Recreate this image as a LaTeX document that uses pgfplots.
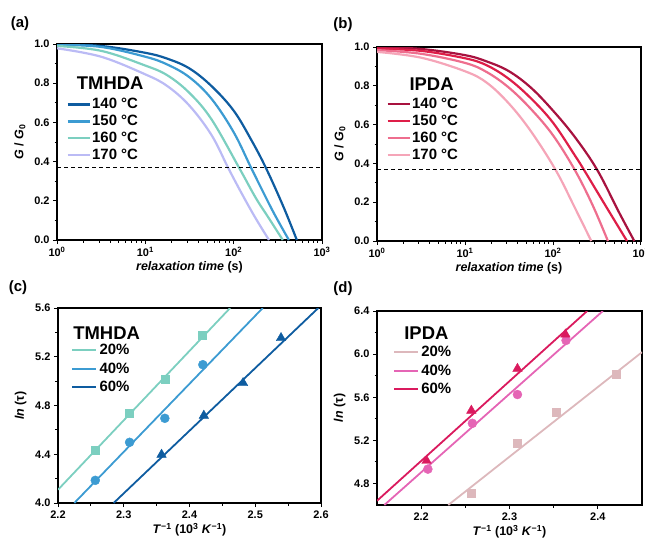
\documentclass[border=0pt]{standalone}
\usepackage{pgfplots}
\pgfplotsset{compat=1.18}
\usepackage{fontspec}
\setmainfont{Liberation Sans}

\definecolor{bA}{HTML}{0E5CA0}
\definecolor{bB}{HTML}{3C9BD2}
\definecolor{bC}{HTML}{7CCFC0}
\definecolor{bD}{HTML}{BBBBF5}
\definecolor{rA}{HTML}{A8123F}
\definecolor{rB}{HTML}{DE1E48}
\definecolor{rC}{HTML}{EE6E8E}
\definecolor{rD}{HTML}{F5A5B8}
\definecolor{dA}{HTML}{DDB8BC}
\definecolor{dB}{HTML}{E565B5}
\definecolor{dC}{HTML}{DA1A5E}

\newcommand\tickfont{\fontsize{11}{12}\selectfont\bfseries}
\newcommand\labfont{\fontsize{12.5}{14}\selectfont\bfseries}
\newcommand\legfont{\fontsize{15}{16}\selectfont\bfseries}
\newcommand\titfont{\fontsize{18.5}{19}\selectfont\bfseries}
\newcommand\panfont{\fontsize{15}{16}\selectfont\bfseries}

\pgfplotsset{
  panel/.style={
    scale only axis, anchor=south west,
    axis line style={line width=1.4bp},
    tick style={black, line width=1bp},
    tick align=outside, xtick pos=bottom, ytick pos=left,
    major tick length=4bp, minor tick length=2.5bp,
    ticklabel style={font=\tickfont},
    /pgf/number format/assume math mode=true,
    /pgf/number format/fixed, /pgf/number format/fixed zerofill,
    /pgf/number format/precision=1,
    label style={font=\labfont},
    xlabel style={yshift=2bp}, ylabel style={yshift=2bp},
    legend cell align=left,
    legend style={draw=none, fill=none, font=\legfont, inner sep=0pt,
      nodes={inner xsep=1.5bp}},
  },
  curveleg/.style={
    legend image code/.code={\draw[##1, line width=2.2bp] (0bp,0bp) -- (22bp,0bp);},
    legend style={row sep=1bp}},
  pctleg/.style={
    legend image code/.code={\draw[##1, line width=2.2bp] (0bp,0bp) -- (24bp,0bp);},
    legend style={row sep=2.5bp, nodes={inner xsep=2bp}}},
  curve/.style={line width=2.2bp, smooth, tension=0.6, no marks},
  fit/.style={line width=1.8bp},
}

\begin{document}
\begin{tikzpicture}
\path[use as bounding box] (0,0) rectangle (645bp,-542bp);

% (a)
\begin{axis}[panel, curveleg, at={(57bp,-240bp)}, width=265bp, height=196bp,
  xmode=log, xmin=1, xmax=1000, ymin=0, ymax=1,
  xtick={1,10,100,1000},
  xticklabels={10\textsuperscript{0},10\textsuperscript{1},10\textsuperscript{2},10\textsuperscript{3}},
  ytick={0,0.2,0.4,0.6,0.8,1.0}, minor y tick num=1,
  xlabel={\textit{relaxation time} (s)},
  ylabel={\textit{G} / \textit{G}\textsubscript{0}},
  legend style={at={(0.035,0.733)}, anchor=north west}]
\addplot[curve, bA] coordinates {(1,0.998) (3.162,0.99) (10,0.955) (17.78,0.925) (31.62,0.875) (56.23,0.785) (100,0.66) (158.5,0.51) (232.8,0.366) (365.6,0.17) (518.8,0)};
\addplot[curve, bB] coordinates {(1,0.996) (3.162,0.985) (10,0.935) (17.78,0.895) (31.62,0.83) (56.23,0.72) (100,0.55) (158.5,0.366) (251.2,0.185) (316.2,0.10) (421.7,0)};
\addplot[curve, bC] coordinates {(1,0.99) (3.162,0.965) (10,0.89) (17.78,0.84) (31.62,0.75) (56.23,0.615) (116.1,0.366) (177.8,0.215) (251.2,0.11) (359.7,0)};
\addplot[curve, bD] coordinates {(1,0.978) (3.162,0.935) (10,0.845) (17.78,0.785) (31.62,0.685) (56.23,0.535) (87.10,0.366) (125.9,0.23) (177.8,0.11) (251.2,0)};
\addplot[black, line width=1bp, dash pattern=on 4bp off 3bp, forget plot] coordinates {(1,0.368) (1000,0.368)};
\legend{140 °C,150 °C,160 °C,170 °C}
\node[font=\titfont, anchor=west] at (rel axis cs:0.062,0.80) {TMHDA};
\end{axis}

% (b)
\begin{axis}[panel, curveleg, at={(377bp,-241bp)}, width=264bp, height=194bp,
  xmode=log, xmin=1, xmax=1000, ymin=0, ymax=1,
  xtick={1,10,100,1000},
  xticklabels={10\textsuperscript{0},10\textsuperscript{1},10\textsuperscript{2},10\textsuperscript{3}},
  ytick={0,0.2,0.4,0.6,0.8,1.0}, minor y tick num=1,
  xlabel={\textit{relaxation time} (s)},
  ylabel={\textit{G} / \textit{G}\textsubscript{0}},
  legend style={at={(0.035,0.747)}, anchor=north west}]
\addplot[curve, rA] coordinates {(1,1.0) (3.162,0.99) (10,0.958) (17.78,0.925) (31.62,0.875) (56.23,0.79) (100,0.672) (177.8,0.535) (318.4,0.366) (562.3,0.148) (839.5,0)};
\addplot[curve, rB] coordinates {(1,0.992) (3.162,0.98) (10,0.942) (17.78,0.905) (31.62,0.835) (56.23,0.735) (100,0.61) (177.8,0.44) (225.4,0.366) (398.1,0.18) (693.4,0)};
\addplot[curve, rC] coordinates {(1,0.984) (3.162,0.965) (10,0.918) (17.78,0.87) (31.62,0.79) (56.23,0.68) (100,0.545) (177.0,0.366) (281.8,0.185) (420.7,0)};
\addplot[curve, rD] coordinates {(1,0.975) (3.162,0.945) (10,0.875) (17.78,0.815) (31.62,0.708) (56.23,0.565) (107.2,0.366) (177.8,0.17) (272.3,0)};
\addplot[black, line width=1bp, dash pattern=on 4bp off 3bp, forget plot] coordinates {(1,0.368) (1000,0.368)};
\legend{140 °C,150 °C,160 °C,170 °C}
\node[font=\titfont, anchor=west] at (rel axis cs:0.11,0.807) {IPDA};
\end{axis}

% (c)
\begin{axis}[panel, pctleg, at={(58bp,-503bp)}, width=263bp, height=195bp,
  xmin=2.2, xmax=2.6, ymin=4.0, ymax=5.6,
  xtick={2.2,2.3,2.4,2.5,2.6}, ytick={4.0,4.4,4.8,5.2,5.6},
  minor y tick num=1, minor x tick num=1,
  xlabel={\textit{T}\textsuperscript{−1} (10\textsuperscript{3} \textit{K}\textsuperscript{−1})},
  ylabel={\textit{ln} (τ)},
  legend style={at={(0.05,0.825)}, anchor=north west}]
\addplot[bC, fit] coordinates {(2.2,4.109) (2.4618,5.6)};
\addplot[bB, fit] coordinates {(2.2248,4.0) (2.5114,5.6)};
\addplot[bA, fit] coordinates {(2.2846,4.0) (2.5959,5.6)};
\addplot[only marks, mark=square*, mark size=4bp, bC, forget plot] coordinates {(2.2567,4.435) (2.3089,4.739) (2.3635,5.017) (2.4192,5.373)};
\addplot[only marks, mark=*, mark size=4.5bp, bB, forget plot] coordinates {(2.2567,4.186) (2.3089,4.498) (2.3625,4.695) (2.4203,5.135)};
\addplot[only marks, mark=triangle*, mark size=5.5bp, bA, forget plot] coordinates {(2.3575,4.397) (2.4218,4.717) (2.4815,4.985) (2.5392,5.354)};
\legend{20\%,40\%,60\%}
\node[font=\titfont, anchor=west] at (rel axis cs:0.045,0.872) {TMHDA};
\end{axis}

% (d)
\begin{axis}[panel, pctleg, at={(377bp,-505bp)}, width=265bp, height=194bp,
  xmin=2.15, xmax=2.45, ymin=4.6, ymax=6.4,
  xtick={2.2,2.3,2.4}, ytick={4.8,5.2,5.6,6.0,6.4},
  minor y tick num=1, minor x tick num=1,
  xlabel={\textit{T}\textsuperscript{−1} (10\textsuperscript{3} \textit{K}\textsuperscript{−1})},
  ylabel={\textit{ln} (τ)},
  legend style={at={(0.06,0.829)}, anchor=north west}]
\addplot[dA, fit] coordinates {(2.2307,4.6) (2.45,6.018)};
\addplot[dB, fit] coordinates {(2.1583,4.6) (2.4057,6.4)};
\addplot[dC, fit] coordinates {(2.15,4.639) (2.3879,6.4)};
\addplot[only marks, mark=square*, mark size=4bp, dA, forget plot] coordinates {(2.2568,4.710) (2.3091,5.172) (2.3534,5.460) (2.4205,5.81)};
\addplot[only marks, mark=*, mark size=4.5bp, dB, forget plot] coordinates {(2.2076,4.933) (2.258,5.358) (2.309,5.625) (2.364,6.127)};
\addplot[only marks, mark=triangle*, mark size=5.5bp, dC, forget plot] coordinates {(2.2061,5.011) (2.2568,5.476) (2.309,5.864) (2.3633,6.183)};
\legend{20\%,40\%,60\%}
\node[font=\titfont, anchor=west] at (rel axis cs:0.09,0.884) {IPDA};
\end{axis}

\node[font=\panfont] at (20bp,-24bp) {(a)};
\node[font=\panfont] at (343bp,-25bp) {(b)};
\node[font=\panfont] at (18bp,-288bp) {(c)};
\node[font=\panfont] at (343bp,-289bp) {(d)};
\end{tikzpicture}
\end{document}
